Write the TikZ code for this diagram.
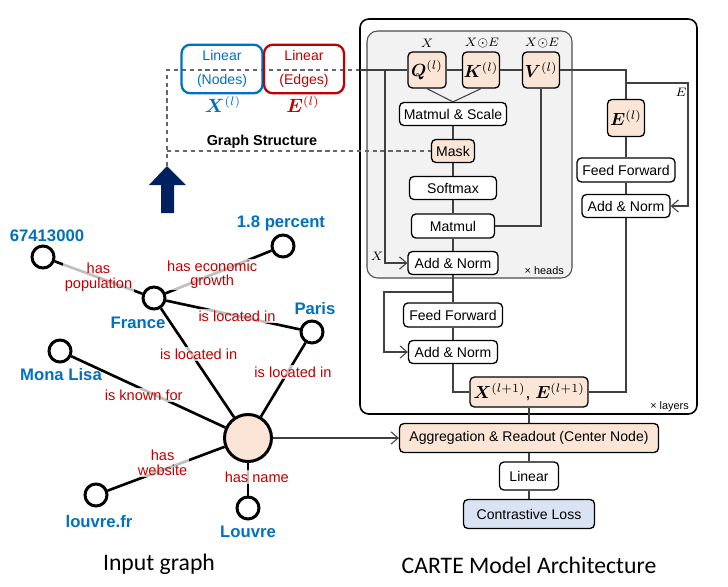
\documentclass[tikz,border=0pt]{standalone}
\usepackage{fontspec}
\usepackage{bm}
\setmainfont{Liberation Sans}
\newfontfamily\titlefont{Carlito}
\usetikzlibrary{arrows.meta}
\definecolor{peach}{RGB}{251,229,214}
\definecolor{lossblue}{RGB}{218,227,243}
\definecolor{headsgray}{RGB}{242,242,242}
\definecolor{nodeblue}{RGB}{0,112,192}
\definecolor{edgered}{RGB}{192,0,0}
\definecolor{navy}{RGB}{0,32,96}
\newcommand{\fsz}[1]{\fontsize{#1}{#1}\selectfont}

\begin{document}
\begin{tikzpicture}[x=0.02cm, y=-0.02cm,
    blk/.style={draw, rounded corners=2.5pt, line width=0.75pt, fill=white, inner sep=0pt, font=\fsz{8}},
    att/.style={blk, fill=peach, font=\fsz{10}},
    wire/.style={draw=black!75, line width=0.6pt},
    arr/.style={wire, -{Straight Barb[length=4pt,width=7pt]}},
    gstr/.style={draw=black!60, line width=0.6pt, dash pattern=on 2.5pt off 2pt},
    hint/.style={font=\fsz{7}, inner sep=1pt},
    vtx/.style={circle, draw, line width=1.7pt, fill=white, minimum size=0.44cm, inner sep=0pt},
    rel/.style={draw, line width=1.5pt},
    elab/.style={text=edgered, font=\fsz{8.3}, fill=white, fill opacity=0.75, text opacity=1, align=center, inner sep=1pt},
    vlab/.style={text=nodeblue, font=\bfseries\fsz{9.5}},
    lin/.style={draw, rounded corners=5pt, line width=1.3pt, minimum width=1.62cm, minimum height=0.96cm, align=center, font=\fontsize{8}{10.5}\selectfont}]
  \useasboundingbox (0,0) rectangle (728,586);

  % input graph
  \node[vtx] (Pop) at (43,257) {};
  \node[vtx] (Gr) at (283,246) {};
  \node[vtx] (Fr) at (154,298) {};
  \node[vtx] (Pa) at (312,332) {};
  \node[vtx] (ML) at (60,351) {};
  \node[vtx, fill=peach, minimum size=0.94cm] (C) at (248,438) {};
  \node[vtx] (Web) at (96,495) {};
  \node[vtx] (Lv) at (248,508) {};
  \node[vlab] (tPop) at (47,236) {67413000};
  \node[vlab] (tGr) at (281,223) {1.8 percent};
  \node[vlab] (tFr) at (138,323) {France};
  \node[vlab] (tPa) at (315,309) {Paris};
  \node[vlab] (tML) at (61,375) {Mona Lisa};
  \node[vlab] (tWeb) at (99,522) {louvre.fr};
  \node[vlab] (tLv) at (248,532) {Louvre};
  \draw[rel] (Fr) -- node[elab, pos=0.5] {has\\population} (Pop);
  \draw[rel] (Fr) -- node[elab, pos=0.44] {has economic\\growth} (Gr);
  \draw[rel] (Fr) -- node[elab, pos=0.53] {is located in} (Pa);
  \draw[rel] (Fr) -- node[elab, pos=0.42, xshift=4] {is located in} (C);
  \draw[rel] (Pa) -- node[elab, pos=0.4, xshift=3] {is located in} (C);
  \draw[rel] (ML) -- node[elab, pos=0.47, yshift=-3] {is known for} (C);
  \draw[rel] (Web) -- node[elab, pos=0.47, yshift=4] {has\\website} (C);
  \draw[rel] (C) -- node[elab, pos=0.44, xshift=5] {has name} (Lv);

  % linear encoders and graph structure
  \coordinate (tip) at (167,166);
  \coordinate (in) at (360,70);
  \fill[navy] (161,213) -- (161,185) -- (149,185) -- (tip) -- (186,185) -- (174,185) -- (174,213) -- cycle;
  \draw[gstr] (tip) |- (in);
  \node[lin, draw=nodeblue, text=nodeblue] (LN) at (222,69) {Linear\\[3pt](Nodes)};
  \node[lin, draw=edgered, text=edgered, minimum width=1.6cm] (LE) at (304,69) {Linear\\[3pt](Edges)};
  \node[text=nodeblue, font=\fsz{10.5}] (XL) at (223,104) {$\bm{X}^{(l)}$};
  \node[text=edgered, font=\fsz{10.5}] (EL) at (303,104) {$\bm{E}^{(l)}$};
  \node[font=\bfseries\fsz{8.2}] (GS) at (262,142) {Graph Structure};

  % model frames
  \draw[line width=0.9pt, rounded corners=5pt] (360,19) rectangle (697,414);
  \draw[fill=headsgray, draw=black!70, line width=0.6pt, rounded corners=6pt] (367,31) rectangle (572,278);
  \node[font=\fsz{6.2}, anchor=east] (nh) at (570,271) {× heads};
  \node[font=\fsz{6.2}, anchor=east] (nl) at (695,407) {× layers};

  % attention block
  \node[att, minimum width=0.76cm, minimum height=0.72cm] (Q) at (427,70) {$\bm{Q}^{(l)}$};
  \node[att, minimum width=0.74cm, minimum height=0.72cm] (K) at (481,70) {$\bm{K}^{(l)}$};
  \node[att, minimum width=0.74cm, minimum height=0.72cm] (V) at (541,70) {$\bm{V}^{(l)}$};
  \node[hint] (hQ) at (427,43) {$X$};
  \node[hint] (hK) at (482,43) {$X{\odot}E$};
  \node[hint] (hV) at (542,43) {$X{\odot}E$};
  \node[blk, minimum width=2.14cm, minimum height=0.46cm] (MS) at (453,114) {Matmul \& Scale};
  \node[blk, fill=peach, minimum width=0.86cm, minimum height=0.46cm] (Mask) at (453,151) {Mask};
  \node[blk, minimum width=1.74cm, minimum height=0.46cm] (SM) at (453,188) {Softmax};
  \node[blk, minimum width=1.66cm, minimum height=0.48cm] (MM) at (453,226) {Matmul};
  \node[blk, minimum width=1.80cm, minimum height=0.46cm] (AN1) at (453,263) {Add \& Norm};
  \node[blk, minimum width=1.98cm, minimum height=0.48cm] (FF1) at (453,315) {Feed Forward};
  \node[blk, minimum width=1.78cm, minimum height=0.46cm] (AN2) at (453,352) {Add \& Norm};
  \node[att, minimum width=2.36cm, minimum height=0.60cm] (XE) at (529,392) {$\bm{X}^{(l+1)}$, $\bm{E}^{(l+1)}$};

  % edge branch
  \node[att, minimum width=0.74cm, minimum height=0.74cm] (E) at (626,118) {$\bm{E}^{(l)}$};
  \node[blk, minimum width=1.96cm, minimum height=0.48cm] (FF2) at (626,170) {Feed Forward};
  \node[blk, minimum width=1.76cm, minimum height=0.46cm] (AN3) at (626,206) {Add \& Norm};

  % readout
  \node[blk, fill=peach, minimum width=5.18cm, minimum height=0.58cm] (Agg) at (529,438) {Aggregation \& Readout (Center Node)};
  \node[blk, minimum width=1.18cm, minimum height=0.56cm] (Lin) at (529,476) {Linear};
  \node[blk, fill=lossblue, minimum width=2.62cm, minimum height=0.58cm] (CL) at (529,514) {Contrastive Loss};

  % wires
  \draw[gstr] (tip |- Mask) -- (Mask);
  \coordinate (xbr) at (385,70);
  \coordinate (rbr) at (453,292);
  \coordinate (ebr) at (626,83);
  \draw[wire] (in) -- (Q);
  \draw[wire] (Q) -- (K);
  \draw[wire] (K) -- (V);
  \draw[wire] (V) -| (E);
  \draw[wire] (Q.south) -- (MS.north);
  \draw[wire] (K.south) -- (MS.north);
  \draw[wire] (MS) -- (Mask);
  \draw[wire] (Mask) -- (SM);
  \draw[wire] (SM) -- (MM);
  \draw[wire] (MM) -- (AN1);
  \draw[wire] (V) |- (MM);
  \draw[arr] (xbr) |- (AN1);
  \node[hint] (hX) at (377,256) {$X$};
  \draw[wire] (AN1) -- (FF1);
  \draw[arr] (rbr) -- ++(-69,0) |- (AN2);
  \draw[wire] (FF1) -- (AN2);
  \draw[wire] (AN2) |- (XE);
  \draw[arr] (ebr) -- ++(62,0) |- (AN3);
  \node[hint] (hE) at (681,92) {$E$};
  \draw[wire] (E) -- (FF2);
  \draw[wire] (FF2) -- (AN3);
  \draw[wire] (AN3) |- (XE);
  \draw[wire] (XE) -- (Agg);
  \draw[wire] (Agg) -- (Lin);
  \draw[wire] (Lin) -- (CL);
  \draw[arr] (C) -- (Agg);

  % titles
  \node[font=\titlefont\fsz{13.5}] (T1) at (159,564) {Input graph};
  \node[font=\titlefont\fsz{13.5}] (T2) at (529,565) {CARTE Model Architecture};
\end{tikzpicture}
\end{document}
